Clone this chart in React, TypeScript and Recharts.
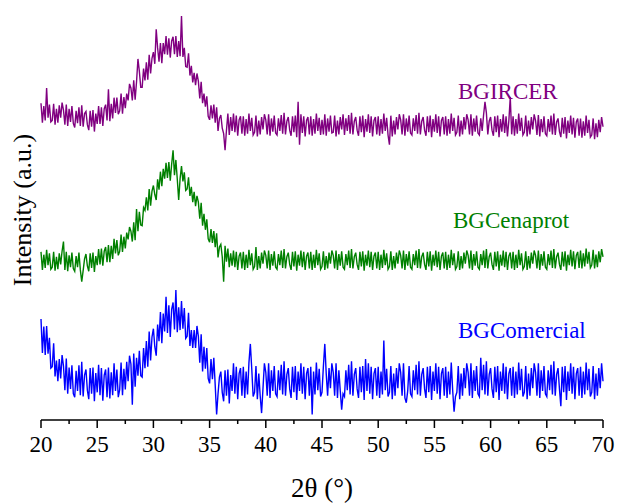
import React from 'react';
import { LineChart, Line, XAxis, YAxis } from 'recharts';

// 2θ grid: 20° to 70°, one reading every 0.125°
const START = 20;
const STEP = 0.125;

// intensities (a.u.), curves already stacked with an offset; one row per degree
const BGIRCER = [
  458, 430, 454, 433, 480, 437, 456, 431,
  433, 457, 427, 450, 430, 455, 437, 459,
  448, 427, 456, 425, 450, 431, 454, 429,
  423, 447, 429, 452, 425, 455, 424, 443,
  446, 427, 419, 447, 424, 448, 417, 443,
  428, 454, 428, 452, 425, 450, 456, 433,
  478, 432, 457, 436, 466, 444, 466, 442,
  447, 472, 443, 467, 451, 472, 462, 486,
  480, 462, 491, 463, 489, 522, 504, 481,
  481, 508, 491, 517, 492, 528, 501, 523,
  532, 515, 565, 538, 518, 545, 516, 545,
  529, 555, 528, 552, 524, 548, 554, 529,
  555, 525, 548, 526, 584, 525, 538, 511,
  510, 530, 498, 512, 488, 502, 484, 501,
  490, 465, 489, 458, 472, 453, 468, 439,
  434, 455, 436, 456, 430, 452, 418, 436,
  441, 422, 414, 390, 419, 443, 412, 438,
  418, 443, 416, 440, 411, 434, 439, 414,
  439, 411, 435, 414, 443, 418, 437, 412,
  416, 440, 410, 433, 413, 438, 420, 442,
  434, 413, 442, 411, 436, 417, 440, 415,
  412, 436, 418, 441, 414, 444, 413, 432,
  438, 419, 411, 439, 416, 440, 409, 460,
  398, 442, 415, 439, 410, 433, 438, 413,
  439, 411, 435, 414, 443, 418, 437, 412,
  434, 413, 442, 411, 436, 417, 440, 415,
  416, 440, 410, 433, 413, 438, 420, 442,
  412, 436, 418, 441, 414, 444, 413, 432,
  438, 419, 411, 439, 416, 440, 409, 435,
  417, 442, 415, 439, 410, 433, 438, 413,
  439, 411, 435, 414, 443, 418, 437, 412,
  398, 440, 410, 433, 413, 438, 420, 442,
  434, 413, 442, 411, 436, 417, 440, 415,
  412, 436, 418, 441, 414, 444, 413, 432,
  438, 419, 411, 439, 416, 440, 409, 435,
  417, 442, 415, 439, 410, 433, 438, 413,
  439, 411, 435, 414, 443, 418, 437, 412,
  416, 440, 410, 433, 413, 438, 420, 442,
  434, 413, 442, 411, 436, 417, 440, 415,
  412, 436, 418, 441, 460, 444, 413, 432,
  438, 419, 411, 439, 416, 440, 409, 435,
  417, 442, 415, 439, 410, 433, 467, 413,
  439, 411, 435, 414, 443, 418, 437, 412,
  416, 440, 410, 433, 413, 438, 420, 442,
  433, 412, 441, 410, 435, 416, 439, 414,
  411, 435, 417, 440, 413, 443, 412, 431,
  436, 417, 409, 437, 414, 438, 407, 433,
  415, 440, 413, 437, 408, 431, 436, 411,
  436, 408, 432, 411, 440, 415, 434, 409,
  412, 436, 406, 429, 409, 434, 416, 438,
  424,
];

const BGCENAPROT = [
  243, 217, 239, 220, 246, 224, 241, 218,
  221, 243, 216, 236, 218, 241, 225, 244,
  258, 217, 243, 215, 238, 221, 242, 219,
  215, 237, 221, 242, 217, 200, 216, 233,
  240, 223, 215, 241, 220, 242, 214, 237,
  224, 247, 225, 248, 223, 244, 250, 228,
  253, 228, 252, 233, 262, 241, 260, 238,
  244, 268, 243, 265, 248, 271, 261, 279,
  273, 258, 286, 260, 305, 273, 301, 282,
  281, 307, 303, 322, 303, 334, 310, 331,
  339, 326, 318, 348, 333, 359, 338, 363,
  349, 372, 350, 373, 346, 370, 390, 354,
  376, 348, 318, 349, 367, 345, 358, 332,
  334, 351, 324, 337, 315, 330, 309, 324,
  315, 291, 314, 281, 298, 275, 290, 262,
  257, 276, 256, 273, 250, 270, 235, 250,
  254, 236, 200, 252, 229, 248, 221, 241,
  223, 245, 221, 243, 217, 237, 242, 219,
  243, 217, 239, 220, 246, 224, 241, 218,
  222, 250, 217, 237, 219, 242, 226, 245,
  238, 219, 245, 217, 240, 223, 244, 221,
  218, 240, 224, 245, 220, 247, 219, 236,
  242, 225, 217, 243, 222, 244, 216, 239,
  223, 245, 221, 243, 217, 237, 242, 219,
  243, 217, 239, 220, 246, 224, 241, 218,
  222, 244, 217, 237, 219, 242, 226, 245,
  238, 219, 245, 217, 240, 223, 244, 221,
  218, 240, 224, 245, 220, 247, 219, 236,
  242, 225, 217, 243, 222, 244, 216, 239,
  223, 245, 221, 243, 217, 237, 242, 219,
  243, 217, 239, 220, 246, 224, 241, 218,
  222, 244, 217, 237, 219, 242, 226, 245,
  238, 219, 245, 217, 240, 223, 244, 221,
  218, 240, 224, 245, 220, 247, 219, 236,
  242, 225, 217, 243, 222, 244, 216, 239,
  223, 245, 221, 243, 217, 237, 242, 219,
  243, 217, 239, 220, 246, 224, 241, 218,
  222, 244, 217, 237, 219, 242, 226, 245,
  238, 219, 245, 217, 240, 223, 244, 221,
  218, 240, 224, 245, 220, 247, 219, 236,
  242, 225, 217, 243, 222, 244, 216, 239,
  223, 245, 221, 243, 217, 237, 242, 219,
  243, 217, 239, 220, 246, 224, 241, 218,
  222, 244, 217, 237, 219, 242, 226, 245,
  238, 219, 245, 217, 240, 223, 244, 221,
  218, 240, 224, 245, 220, 247, 219, 236,
  242, 225, 217, 243, 222, 244, 216, 239,
  224, 246, 222, 244, 218, 238, 243, 220,
  245, 219, 241, 222, 248, 226, 243, 220,
  224, 246, 219, 239, 221, 244, 228, 247,
  236,
];

const BGCOMERCIAL = [
  146, 97, 135, 94, 136, 96, 119, 75,
  77, 111, 63, 86, 56, 88, 60, 94,
  78, 43, 89, 38, 76, 45, 79, 38,
  33, 71, 42, 79, 36, 84, 34, 65,
  73, 43, 30, 75, 38, 76, 27, 68,
  40, 80, 36, 75, 28, 65, 73, 33,
  76, 31, 69, 36, 82, 42, 73, 33,
  44, 83, 36, 74, 44, 84, 56, 93,
  81, 22, 96, 48, 90, 64, 100, 64,
  62, 104, 75, 114, 77, 128, 86, 120,
  132, 106, 93, 138, 114, 156, 111, 154,
  128, 178, 126, 166, 120, 160, 170, 131,
  188, 127, 163, 130, 172, 132, 162, 118,
  121, 155, 107, 130, 104, 130, 104, 136,
  121, 83, 124, 70, 106, 74, 104, 60,
  53, 88, 59, 90, 50, 8, 38, 62,
  70, 40, 27, 72, 35, 73, 24, 65,
  42, 82, 38, 77, 30, 67, 75, 35,
  77, 32, 70, 37, 83, 110, 74, 34,
  40, 78, 30, 67, 35, 10, 46, 82,
  69, 35, 82, 32, 72, 42, 78, 38,
  34, 72, 43, 80, 37, 85, 35, 66,
  75, 45, 32, 77, 40, 78, 29, 70,
  42, 82, 38, 77, 30, 67, 75, 35,
  77, 8, 70, 37, 83, 43, 74, 34,
  40, 78, 110, 67, 35, 75, 46, 82,
  69, 35, 82, 32, 72, 42, 15, 38,
  34, 72, 43, 80, 37, 85, 35, 66,
  75, 45, 32, 77, 40, 78, 29, 88,
  42, 82, 38, 77, 30, 67, 75, 35,
  77, 32, 70, 37, 115, 43, 74, 34,
  40, 78, 30, 67, 35, 75, 46, 82,
  69, 35, 82, 32, 25, 42, 78, 38,
  34, 72, 43, 80, 37, 85, 35, 66,
  75, 45, 32, 77, 40, 78, 29, 70,
  42, 82, 38, 77, 30, 67, 75, 35,
  77, 32, 70, 37, 83, 43, 12, 34,
  40, 78, 30, 67, 35, 75, 46, 82,
  69, 35, 82, 32, 72, 42, 78, 38,
  34, 90, 43, 80, 37, 85, 35, 66,
  75, 45, 32, 77, 40, 78, 29, 70,
  42, 82, 38, 77, 30, 67, 75, 35,
  77, 32, 70, 37, 83, 43, 74, 34,
  40, 78, 30, 67, 35, 75, 46, 82,
  69, 35, 82, 32, 72, 42, 78, 38,
  34, 72, 43, 80, 37, 85, 35, 66,
  75, 45, 20, 77, 40, 78, 29, 70,
  42, 82, 38, 77, 30, 67, 75, 35,
  77, 32, 70, 37, 83, 43, 74, 34,
  40, 78, 30, 67, 35, 75, 46, 82,
  56,
];

const X_TICKS = [20, 22.5, 25, 27.5, 30, 32.5, 35, 37.5, 40, 42.5, 45, 47.5, 50, 52.5, 55, 57.5, 60, 62.5, 65, 67.5, 70];
const Y_TICKS = [0, 100, 200, 300, 400, 500, 600];

const SERIES = [
  { key: 'bgircer', name: 'BGIRCER', color: '#800080' },
  { key: 'bgcenaprot', name: 'BGCenaprot', color: '#008000' },
  { key: 'bgcomercial', name: 'BGComercial', color: '#0000ff' },
];

const data = BGIRCER.map((_, i) => ({
  x: START + i * STEP,
  bgircer: BGIRCER[i],
  bgcenaprot: BGCENAPROT[i],
  bgcomercial: BGCOMERCIAL[i],
}));

const FONT = '"Liberation Serif", "DejaVu Serif", serif';

const BottomTick = (props: any) => {
  const { x, y, payload } = props;
  const major = payload.value % 5 === 0;
  return (
    <g>
      <line x1={x} x2={x} y1={y} y2={y + (major ? 8 : 4)} stroke="#000" strokeWidth={1.5} />
      {major && (
        <text x={x} y={y + 32} textAnchor="middle" fontFamily={FONT} fontSize={23} fill="#000">
          {payload.value}
        </text>
      )}
    </g>
  );
};

// where the curve names sit (label overlay)
const LABEL_POS = [
  { x: 458, y: 99 },
  { x: 453, y: 228 },
  { x: 458, y: 338 },
];

export default function App() {
  return (
    <div style={{ position: 'absolute', left: 0, top: 0, width: 617, height: 503, background: '#fff', fontFamily: FONT }}>
      <LineChart width={617} height={503} data={data} margin={{ top: 5, right: 14, left: 41, bottom: 0 }}>
        <XAxis
          dataKey="x"
          type="number"
          domain={[20, 70]}
          ticks={X_TICKS}
          interval={0}
          height={83}
          tickSize={0}
          tickMargin={0}
          tickLine={false}
          tick={<BottomTick />}
          axisLine={{ stroke: '#000', strokeWidth: 1.5 }}
        />
        <XAxis
          xAxisId="top"
          orientation="top"
          type="number"
          domain={[20, 70]}
          ticks={X_TICKS}
          interval={0}
          height={0}
          mirror
          tick={false}
          tickSize={3}
          tickLine={{ stroke: '#666' }}
          axisLine={{ stroke: '#000', strokeWidth: 1.5 }}
        />
        <YAxis
          type="number"
          domain={[0, 600]}
          ticks={Y_TICKS}
          width={0}
          mirror
          tick={false}
          tickSize={3}
          tickLine={{ stroke: '#666' }}
          axisLine={{ stroke: '#000', strokeWidth: 1.5 }}
        />
        <YAxis
          yAxisId="right"
          orientation="right"
          type="number"
          domain={[0, 600]}
          ticks={Y_TICKS}
          width={0}
          mirror
          tick={false}
          tickSize={3}
          tickLine={{ stroke: '#666' }}
          axisLine={{ stroke: '#000', strokeWidth: 1.5 }}
        />
        {SERIES.map((s) => (
          <Line
            key={s.key}
            dataKey={s.key}
            name={s.name}
            stroke={s.color}
            strokeWidth={1.4}
            dot={false}
            type="linear"
            isAnimationActive={false}
          />
        ))}
      </LineChart>
      <svg width={617} height={503} style={{ position: 'absolute', left: 0, top: 0, pointerEvents: 'none' }}>
        {SERIES.map((s, i) => (
          <text key={s.key} x={LABEL_POS[i].x} y={LABEL_POS[i].y} fontFamily={FONT} fontSize={23} fill={s.color}>
            {s.name}
          </text>
        ))}
        <text x={322} y={497} textAnchor="middle" fontFamily={FONT} fontSize={27} fill="#000">
          2θ (°)
        </text>
        <text
          x={0}
          y={0}
          transform="translate(31 210) rotate(-90)"
          textAnchor="middle"
          fontFamily={FONT}
          fontSize={26}
          fill="#000"
        >
          Intensity (a.u.)
        </text>
      </svg>
    </div>
  );
}
